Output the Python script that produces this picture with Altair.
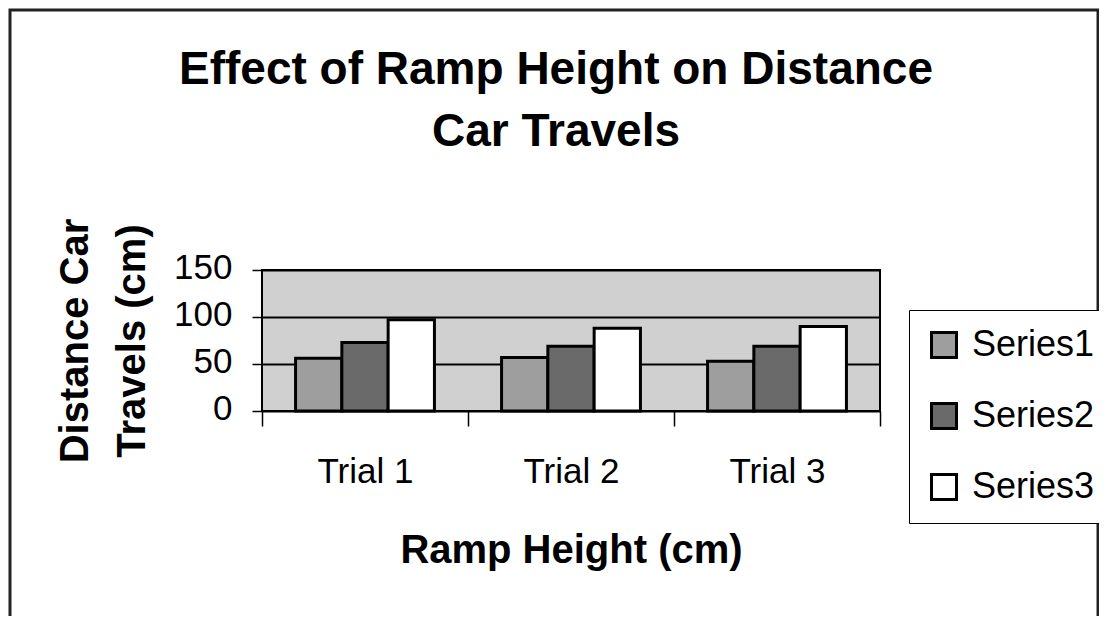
import altair as alt
import pandas as pd

trials = ["Trial 1", "Trial 2", "Trial 3"]
series_names = ["Series1", "Series2", "Series3"]
series1 = [56, 57, 53]
series2 = [73, 69, 69]
series3 = [97, 88, 90]
y_ticks = [0, 50, 100, 150]
colors = ["#9e9e9e", "#6a6a6a", "#ffffff"]

rows = []
for name, vals in zip(series_names, [series1, series2, series3]):
    for t, v in zip(trials, vals):
        rows.append({"trial": t, "series": name, "value": v})
df = pd.DataFrame(rows)

FONT = "Liberation Sans"

bars = alt.Chart(df).mark_bar(stroke="black", strokeWidth=3).encode(
    x=alt.X(
        "trial:N", sort=trials,
        scale=alt.Scale(paddingInner=0, paddingOuter=0),
        axis=alt.Axis(
            title="Ramp Height (cm)", labelAngle=0, labelFontSize=35, labelFont=FONT,
            labelColor="black", labelPadding=28, tickBand="extent", tickSize=15,
            tickColor="black", tickWidth=1.5, domain=False, grid=False,
            titleFontSize=40, titleFont=FONT, titleFontWeight="bold", titleColor="black",
            titleY=151, titleBaseline="alphabetic",
        ),
    ),
    xOffset=alt.XOffset("series:N", sort=series_names,
                        scale=alt.Scale(paddingInner=0, paddingOuter=0.725)),
    y=alt.Y(
        "value:Q", scale=alt.Scale(domain=[0, 150]),
        axis=alt.Axis(
            values=y_ticks, title=["Distance Car", "Travels (cm)"], labelFontSize=35,
            labelFont=FONT, labelColor="black", tickSize=10, tickColor="black", tickWidth=1.5,
            labelPadding=20, labelOffset=-3, labelOverlap=False, grid=True, gridColor="black",
            gridWidth=2, gridOpacity=1, domain=False, titleFontSize=40, titleFont=FONT,
            titleFontWeight="bold", titleColor="black", titleAngle=270, titleX=-175,
            titleY=70.5, titleBaseline="alphabetic", titleLineHeight=57, titleAlign="center",
        ),
    ),
    color=alt.Color(
        "series:N", sort=series_names,
        scale=alt.Scale(domain=series_names, range=colors),
        legend=alt.Legend(
            title=None, orient="none", legendX=647, legendY=40, symbolType="square",
            symbolSize=625, symbolStrokeColor="black", symbolStrokeWidth=3,
            labelFontSize=36, labelFont=FONT, labelColor="black", labelOffset=10,
            rowPadding=33, padding=17, strokeColor="black", fillColor="white",
            labelLimit=300,
        ),
    ),
)

frame = alt.Chart(pd.DataFrame({"k": [0]})).mark_rect(
    fill="transparent", stroke="#222222", strokeWidth=3
).encode(
    x=alt.value(-252), x2=alt.value(836), y=alt.value(-260), y2=alt.value(351)
)

chart = alt.layer(frame, bars).properties(
    width=618,
    height=141,
    autosize=alt.AutoSizeParams(type="none"),
    padding={"left": 254, "top": 262, "right": 219, "bottom": 205},
    title=alt.TitleParams(
        text=["Effect of Ramp Height on Distance", "Car Travels"],
        fontSize=46, fontWeight="bold", font=FONT, color="black",
        anchor="middle", offset=-193, lineHeight=62, dx=-15, baseline="bottom",
    ),
).configure(
    background="white",
    view=alt.ViewConfig(stroke="black", strokeWidth=2, fill="#d0d0d0"),
)

chart.save("out.html", embed_options={"renderer": "svg", "actions": False})
